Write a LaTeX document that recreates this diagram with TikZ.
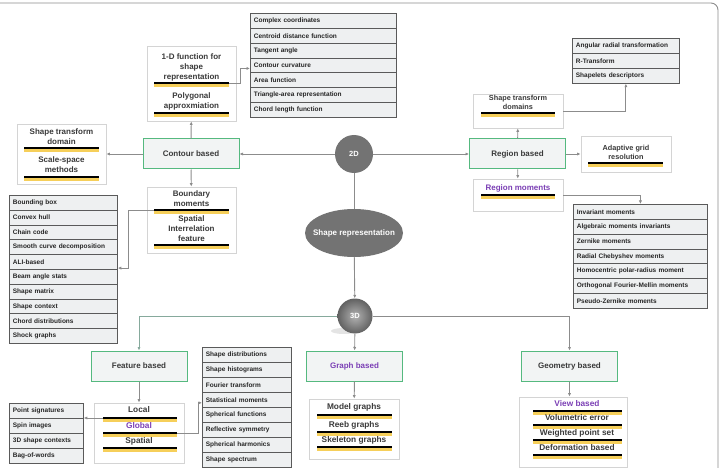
\documentclass[tikz,border=0pt]{standalone}
\usepackage{fontspec}
\setmainfont{Liberation Sans}
\usetikzlibrary{shapes.geometric,arrows.meta,calc}
\definecolor{linegray}{HTML}{8C8C8C}
\definecolor{linegreen}{HTML}{86A99C}
\definecolor{boxgreen}{HTML}{55B97F}
\definecolor{boxfill}{HTML}{F2F4F4}
\definecolor{wborder}{HTML}{D4D4D4}
\definecolor{listfill}{HTML}{EEF0F1}
\definecolor{listborder}{HTML}{5A5A5A}
\definecolor{txtgray}{HTML}{3A3A3A}
\definecolor{purpletxt}{HTML}{7B3FB5}
\definecolor{baryellow}{HTML}{F6CF5A}
\definecolor{ballgray}{HTML}{737373}
\newcommand{\ybar}[4]{%
  \draw[baryel] ({#2},{#4+2.4}) -- ({#3},{#4+2.4});
  \draw[barblk] ({#2},{#4}) coordinate (#1L) -- ({#3},{#4}) coordinate (#1R);}
\tikzset{
  conn/.style={draw=linegray, line width=0.9pt},
  arr/.style={conn, -{Latex[length=3.5pt,width=3.2pt]}},
  arrg/.style={arr, draw=linegreen},
  greenbox/.style={draw=boxgreen, line width=1pt, fill=boxfill, minimum width=96pt, minimum height=30pt, inner sep=0pt, text=txtgray, font=\bfseries\fontsize{8}{10}\selectfont},
  wbox/.style={draw=wborder, line width=0.8pt, fill=white, inner sep=0pt},
  btxt/.style={align=center, inner sep=0pt, text=txtgray, font=\bfseries\fontsize{8}{10}\selectfont},
  stxt/.style={align=center, inner sep=0pt, text=txtgray, font=\bfseries\fontsize{7.3}{9}\selectfont},
  ltxt/.style={align=center, inner sep=0pt, text=txtgray, font=\bfseries\fontsize{8.3}{10}\selectfont},
  listrow/.style={draw=listborder, fill=listfill, line width=0.8pt, minimum height=14.9pt, inner xsep=3.5pt, inner ysep=0pt, text width=#1, align=left, anchor=north west, text=black!85, font=\bfseries\fontsize{6.5}{7.5}\selectfont},
  baryel/.style={draw=baryellow, line width=3pt},
  barblk/.style={draw=black, line width=2pt}
}
\begin{document}
\begin{tikzpicture}[x=1pt,y=-1pt]
\useasboundingbox (0,0) rectangle (721,468);
% outer frame
\draw[draw=linegray, line width=0.9pt, rounded corners=7pt] (0,3) -- (718,3) -- (718,472);

% central nodes
\node[circle, minimum size=38pt, inner sep=0pt, fill=ballgray, text=white, font=\bfseries\fontsize{7.5}{9}\selectfont] (c2d) at (354,154) {2D};
\node[ellipse, minimum width=98pt, minimum height=48pt, inner sep=0pt, fill=ballgray] (shrep) at (354,233) {};
\node[inner sep=0pt, text=white, font=\bfseries\fontsize{8}{10}\selectfont] (tshrep) at (354,233) {Shape representation};
\fill[gray!35, opacity=0.6] (344,331) ellipse [x radius=13pt, y radius=3pt];
\node[circle, minimum size=35pt, inner sep=0pt, inner color=gray!60, outer color=black!62, text=white, font=\bfseries\fontsize{7.5}{9}\selectfont] (c3d) at (355,316) {3D};

% 2D level boxes
\node[greenbox] (contour) at (191,154) {Contour based};
\node[greenbox] (region) at (517.5,154) {Region based};

% 1-D function box
\node[wbox, minimum width=89pt, minimum height=75pt] (box1d) at (191.5,83.5) {};
\node[btxt] (t1d) at (191.5,67) {1-D function for\\shape\\representation};
\ybar{b1}{154}{229}{83}
\node[btxt] (tpoly) at (191.5,101.7) {Polygonal\\approxmiation};
\ybar{b2}{154}{229}{113}

% shape transform domain (left)
\node[wbox, minimum width=89pt, minimum height=60pt] (stdL) at (61.5,154) {};
\node[btxt] (tstd) at (61.5,136.7) {Shape transform\\domain};
\ybar{b3}{24}{99}{148}
\node[btxt] (tscale) at (61.5,164.7) {Scale-space\\methods};
\ybar{b4}{24}{99}{177}

% boundary moments
\node[wbox, minimum width=89pt, minimum height=66pt] (bound) at (191.5,220) {};
\node[btxt] (tbound) at (191.5,198.3) {Boundary\\moments};
\ybar{b5}{154}{229}{210}
\node[btxt] (tspat) at (191.5,228.3) {Spatial\\Interrelation\\feature};
\ybar{b6}{154}{229}{245}

% shape transform domains (right)
\node[wbox, minimum width=90pt, minimum height=34pt] (stdR) at (518,111) {};
\node[stxt] (tstdR) at (518,102.5) {Shape transform\\domains};
\ybar{b7}{481}{555}{113}

% adaptive grid
\node[wbox, minimum width=90pt, minimum height=36pt] (adapt) at (626,154) {};
\node[stxt] (tadapt) at (626,152.3) {Adaptive grid\\resolution};
\ybar{b8}{588}{663}{163}

% region moments
\node[wbox, minimum width=90pt, minimum height=32pt] (regmom) at (518,195) {};
\node[btxt, text=purpletxt] (tregmom) at (518,188) {Region moments};
\ybar{b9}{481}{555}{195}

% 3D level boxes
\node[greenbox] (feature) at (139,366) {Feature based};
\node[greenbox, text=purpletxt] (graph) at (354.5,366) {Graph based};
\node[greenbox] (geometry) at (569.5,366) {Geometry based};

% local / global / spatial
\node[wbox, minimum width=90pt, minimum height=60pt] (locbox) at (139,433) {};
\node[ltxt] (tloc) at (139,410) {Local};
\ybar{b10}{103}{177}{418}
\node[ltxt, text=purpletxt] (tglob) at (139,426) {Global};
\ybar{b11}{103}{177}{433}
\node[ltxt] (tspa) at (139,441) {Spatial};
\ybar{b12}{103}{177}{448}

% graph box
\node[wbox, minimum width=90pt, minimum height=60pt] (grbox) at (354,429) {};
\node[ltxt] (tmodel) at (354,407.5) {Model graphs};
\ybar{b13}{317}{392}{415}
\node[ltxt] (treeb) at (354,425) {Reeb graphs};
\ybar{b14}{317}{392}{432}
\node[ltxt] (tskel) at (354,440) {Skeleton graphs};
\ybar{b15}{317}{392}{447}

% view box
\node[wbox, minimum width=108pt, minimum height=70pt] (viewbox) at (573,432) {};
\node[ltxt, text=purpletxt] (tview) at (577,404) {View based};
\ybar{b16}{533}{622}{410.7}
\node[ltxt] (tvol) at (577,418) {Volumetric error};
\ybar{b17}{533}{622}{425}
\node[ltxt] (twps) at (577,433) {Weighted point set};
\ybar{b18}{533}{622}{440}
\node[ltxt] (tdef) at (577,447.5) {Deformation based};
\ybar{b19}{533}{622}{455}

% lists
\foreach \itm [count=\i] in {Complex coordinates,Centroid distance function,Tangent angle,Contour curvature,Area function,Triangle-area representation,Chord length function}
  \node[listrow=139pt] (lc\i) at (250,{13+(\i-1)*14.86}) {\itm};
\foreach \itm [count=\i] in {Bounding box,Convex hull,Chain code,Smooth curve decomposition,ALI-based,Beam angle stats,Shape matrix,Shape context,Chord distributions,Shock graphs}
  \node[listrow=101pt] (ll\i) at (9,{195+(\i-1)*14.8}) {\itm};
\foreach \itm [count=\i] in {Angular radial transformation,R-Transform,Shapelets descriptors}
  \node[listrow=100pt] (lr\i) at (572,{38+(\i-1)*15}) {\itm};
\foreach \itm [count=\i] in {Invariant moments,Algebraic moments invariants,Zernike moments,Radial Chebyshev moments,Homocentric polar-radius moment,Orthogonal Fourier-Mellin moments,Pseudo-Zernike moments}
  \node[listrow=127pt] (lm\i) at (573,{204+(\i-1)*14.86}) {\itm};
\foreach \itm [count=\i] in {Point signatures,Spin images,3D shape contexts,Bag-of-words}
  \node[listrow=67pt] (lb\i) at (9,{403+(\i-1)*15}) {\itm};
\foreach \itm [count=\i] in {Shape distributions,Shape histograms,Fourier transform,Statistical moments,Spherical functions,Reflective symmetry,Spherical harmonics,Shape spectrum}
  \node[listrow=82pt] (ls\i) at (202,{347+(\i-1)*15}) {\itm};

% connectors
\draw[arr] (c2d) -- (contour);
\draw[arr] (c2d) -- (region);
\draw[conn] (c2d) -- (shrep);
\draw[arr] (shrep) -- (c3d);
\draw[arr] (contour) -- (box1d);
\draw[arr] (contour) -- (stdL);
\draw[arr] (contour) -- (bound);
\draw[arr] (b1R) -| ([xshift=-10pt,yshift=-3pt]lc4.west) -- ([yshift=-3pt]lc4.west);
\draw[arr] (b5L) -| ([xshift=11pt,yshift=-6pt]ll5.east) -- ([yshift=-6pt]ll5.east);
\draw[arr] (region) -- (stdR);
\draw[arr] (stdR.east) -| (lr3.south);
\draw[arr] (region) -- (adapt);
\draw[arr] (region) -- (regmom);
\draw[arr] (regmom.east |- b9R) -| (lm1.north);
\draw[arrg] (c3d.west) -| (feature.north);
\draw[arr] (c3d) -- (graph);
\draw[arr] (c3d.east) -| (geometry.north);
\draw[arr] (feature) -- (locbox);
\draw[arr] (graph) -- (grbox);
\draw[arr] (geometry.south) -- (geometry.south |- viewbox.north);
\draw[arr] (b10L) -- (b10L -| lb1.east);
\draw[arr] (b11R) -| ([xshift=-4pt,yshift=-3pt]ls4.west) -- ([yshift=-3pt]ls4.west);
\end{tikzpicture}
\end{document}
